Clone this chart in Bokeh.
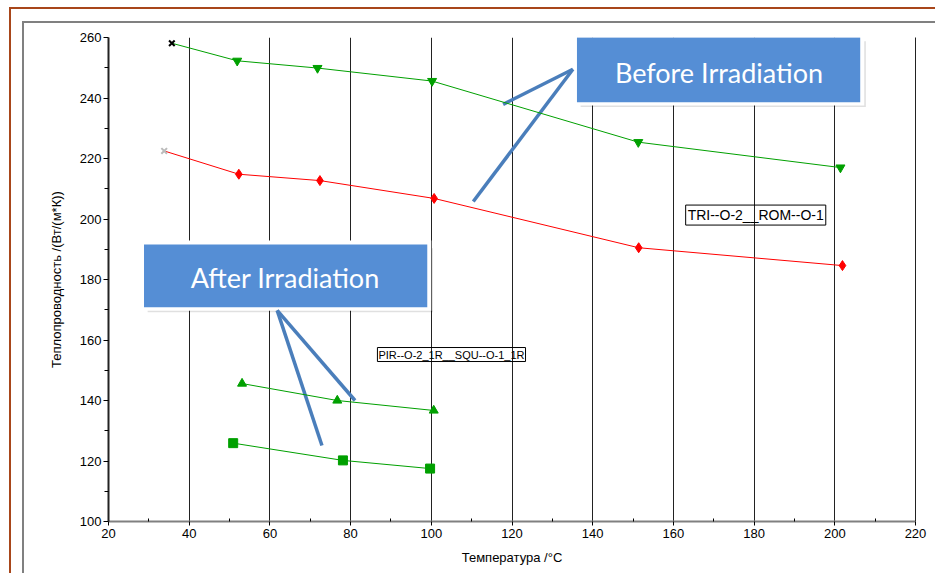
from bokeh.plotting import figure
from bokeh.models import Range1d, FixedTicker, Label, LinearAxis
from bokeh.embed import file_html
from bokeh.resources import INLINE

# ---- data ----
before_green_x = [35.7, 51.9, 71.8, 100.2, 151.3, 201.4]
before_green_y = [258.1, 252.3, 249.9, 245.6, 225.4, 217.0]
before_red_x = [33.8, 52.3, 72.4, 100.7, 151.4, 201.9]
before_red_y = [222.5, 214.8, 212.7, 206.8, 190.5, 184.6]
after_tri_x = [53.1, 76.7, 100.6]
after_tri_y = [145.6, 140.0, 136.7]
after_sq_x = [50.9, 78.1, 99.7]
after_sq_y = [125.9, 120.2, 117.5]

x_ticks = [20, 40, 60, 80, 100, 120, 140, 160, 180, 200, 220]
x_minor = [30, 50, 70, 90, 110, 130, 150, 170, 190, 210]
y_ticks = [100, 120, 140, 160, 180, 200, 220, 240, 260]
y_minor = [110, 130, 150, 170, 190, 210, 230, 250]

x_title = "Температура /°C"
y_title = "Теплопроводность /(Вт/(м*К))"
label_before = "Before Irradiation"
label_after = "After Irradiation"
tag_before = "TRI--O-2__ROM--O-1"
tag_after = "PIR--O-2_1R__SQU--O-1_1R"

# ---- annotation geometry (data units) ----
before_box = dict(left=136.1, right=206.3, top=260.1, bottom=238.6)
after_box = dict(left=28.8, right=99.0, top=191.6, bottom=170.8)
before_lines = dict(x0=[135.1, 135.1], y0=[249.5, 249.5], x1=[117.8, 110.4], y1=[237.9, 205.8])
after_lines = dict(x0=[61.8, 61.8], y0=[169.8, 169.8], x1=[81.1, 72.9], y1=[140.0, 125.1])

GREEN = "#00A000"
RED = "#FF0000"
BLUE = "#558ED5"
ARROW = "#4A7EBB"
BROWN = "#A8461A"
FRAME_GRAY = "#808080"

p = figure(width=935, height=573, output_backend="svg", toolbar_location=None,
           x_range=Range1d(20, 220), y_range=Range1d(100, 260),
           min_border_left=108, min_border_right=20, min_border_top=37, min_border_bottom=52)
p.outline_line_color = None
p.background_fill_color = "white"
p.border_fill_color = None
# decorative page frames (brown outer, gray inner) behind the transparent border area
p.styles = {
    "background-color": "white",
    "background-image": (f"linear-gradient({BROWN},{BROWN}), linear-gradient({BROWN},{BROWN}), "
                         f"linear-gradient({FRAME_GRAY},{FRAME_GRAY}), linear-gradient({FRAME_GRAY},{FRAME_GRAY})"),
    "background-size": "100% 2px, 2px 100%, 100% 2px, 2px 100%",
    "background-position": "9px 7px, 9px 7px, 22px 21px, 22px 21px",
    "background-repeat": "no-repeat",
}

# axes
p.xaxis.ticker = FixedTicker(ticks=x_ticks, minor_ticks=x_minor)
p.yaxis.ticker = FixedTicker(ticks=y_ticks, minor_ticks=y_minor)
for ax in (p.xaxis[0], p.yaxis[0]):
    ax.major_label_text_font = "Liberation Sans"
    ax.major_label_text_font_size = "13px"
    ax.major_label_text_color = "black"
    ax.axis_label_text_font = "Liberation Sans"
    ax.axis_label_text_font_size = "13px"
    ax.axis_label_text_font_style = "normal"
    ax.axis_label_text_color = "black"
    ax.major_tick_line_color = "black"
    ax.minor_tick_line_color = "black"
p.xaxis.axis_label = x_title
p.yaxis.axis_label = y_title
p.xaxis.axis_line_color = "#808080"
p.xaxis.axis_line_width = 2
p.yaxis.axis_line_color = "#222222"
p.yaxis.axis_line_width = 2
p.xaxis.major_tick_out = 4
p.xaxis.major_tick_in = 0
p.xaxis.minor_tick_in = 3
p.xaxis.minor_tick_out = 0
p.xaxis.major_label_standoff = 3
p.xaxis.axis_label_standoff = 9
p.yaxis.major_tick_out = 5
p.yaxis.major_tick_in = 0
p.yaxis.minor_tick_out = 4
p.yaxis.minor_tick_in = 0
p.yaxis.major_label_standoff = 2
p.yaxis.axis_label_standoff = 13

# right edge line at 220 (grid skips range ends)
right_ax = LinearAxis(ticker=FixedTicker(ticks=[]), axis_line_color="#222222", axis_line_width=1,
                      major_tick_line_color=None, minor_tick_line_color=None,
                      major_label_text_font_size="0px", major_label_standoff=0)
p.add_layout(right_ax, "right")

# grid
p.xgrid.ticker = FixedTicker(ticks=x_ticks[1:])
p.xgrid.grid_line_color = "#222222"
p.xgrid.grid_line_width = 1
p.ygrid.grid_line_color = None

# callout boxes (shadow, white border, blue fill)
for b in (before_box, after_box):
    p.quad(left=b["left"] + 0.9, right=b["right"] + 1.4, top=b["top"] - 1.3, bottom=b["bottom"] - 1.6,
           fill_color="#000000", fill_alpha=0.12, line_color=None)
    p.quad(left=b["left"] - 1.0, right=b["right"] + 1.0, top=b["top"] + 1.3, bottom=b["bottom"] - 1.1,
           fill_color="white", line_color=None)
    p.quad(left=b["left"], right=b["right"], top=b["top"], bottom=b["bottom"],
           fill_color=BLUE, line_color=None)

p.add_layout(Label(x=171.3, y=248.5, text=label_before, text_color="white",
                   text_font="Lato", text_font_size="27px",
                   text_align="center", text_baseline="middle"))
p.add_layout(Label(x=63.8, y=180.7, text=label_after, text_color="white",
                   text_font="Lato", text_font_size="27px",
                   text_align="center", text_baseline="middle"))

# callout pointer lines
p.segment(line_color=ARROW, line_width=3.5, **before_lines)
p.segment(line_color=ARROW, line_width=3.5, **after_lines)

# series: before irradiation
p.line(before_green_x, before_green_y, line_color=GREEN, line_width=1)
p.scatter(before_green_x[1:], before_green_y[1:], marker="inverted_triangle", size=9,
          fill_color=GREEN, line_color=GREEN)
p.scatter(before_green_x[:1], before_green_y[:1], marker="x", size=8,
          line_color="black", line_width=2)
p.line(before_red_x, before_red_y, line_color=RED, line_width=1)
p.scatter(before_red_x[1:], before_red_y[1:], marker="diamond", size=10,
          fill_color=RED, line_color=RED)
p.scatter(before_red_x[:1], before_red_y[:1], marker="x", size=8,
          line_color="#BBBBBB", line_width=2)

# series: after irradiation
p.line(after_tri_x, after_tri_y, line_color=GREEN, line_width=1)
p.scatter(after_tri_x, after_tri_y, marker="triangle", size=9, fill_color=GREEN, line_color=GREEN)
p.line(after_sq_x, after_sq_y, line_color=GREEN, line_width=1)
p.scatter(after_sq_x, after_sq_y, marker="square", size=9, fill_color=GREEN, line_color=GREEN)

# boxed tags
p.add_layout(Label(x=180.4, y=201.3, text=tag_before, text_font="Liberation Sans", text_font_size="14px",
                   text_color="black", text_align="center", text_baseline="middle",
                   border_line_color="black", border_line_width=1, padding=2))
p.add_layout(Label(x=105.0, y=155.2, text=tag_after, text_font="Liberation Sans", text_font_size="11px",
                   text_color="black", text_align="center", text_baseline="middle",
                   border_line_color="black", border_line_width=1, padding=1))

open("out.html", "w").write(file_html(p, INLINE))
